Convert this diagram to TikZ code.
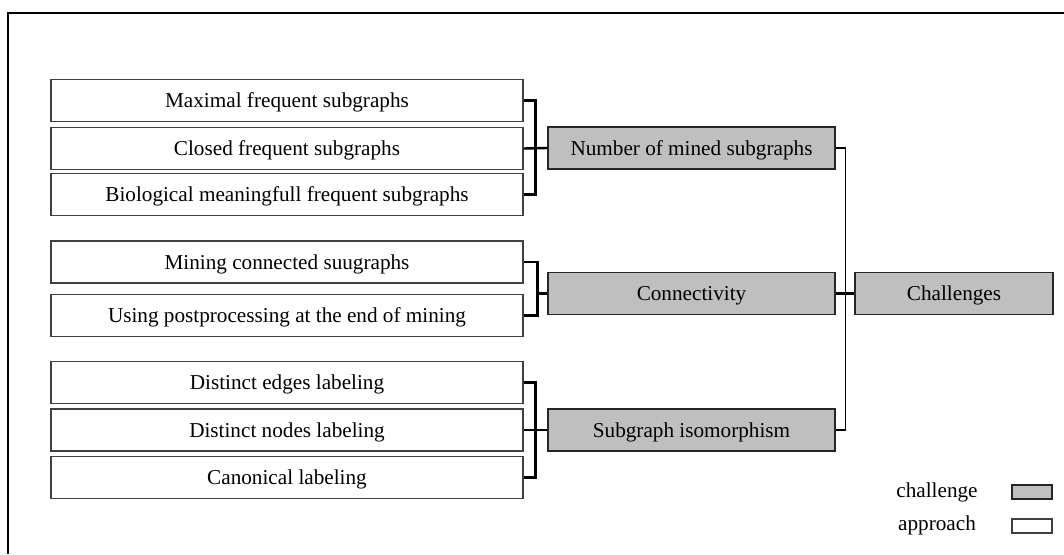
\documentclass[tikz,border=0pt]{standalone}
\usepackage{fontspec}
\setmainfont{Liberation Serif}

\begin{document}
\begin{tikzpicture}[x=1pt,y=-1pt,
    approach/.style={draw=black!75,fill=white,line width=1.1pt,inner sep=0pt,
        minimum width=472pt,minimum height=42pt,text height=14pt,text depth=0pt,
        font=\fontsize{21.2}{25}\selectfont},
    challenge/.style={draw=black!85,fill=gray!50,line width=1.1pt,inner sep=0pt,
        minimum width=287pt,minimum height=42pt,text height=14pt,text depth=0pt,
        font=\fontsize{21.2}{25}\selectfont},
    legend/.style={font=\fontsize{21.2}{25}\selectfont},
    bracket/.style={line width=2.4pt},
    link/.style={line width=1.6pt}]

    \useasboundingbox (0,0) rectangle (1064,554);
    \draw[line width=1.6pt] (1064,13) -| (8,554);

    \node[approach] (max) at (287,100.5) {Maximal frequent subgraphs};
    \node[approach] (closed) at (287,148.5) {Closed frequent subgraphs};
    \node[approach] (bio) at (287,194.5) {Biological meaningfull frequent subgraphs};
    \node[approach] (mining) at (287,262) {Mining connected suugraphs};
    \node[approach] (using) at (287,315.5) {Using postprocessing at the end of mining};
    \node[approach] (edges) at (287,382.5) {Distinct edges labeling};
    \node[approach] (nodes) at (287,430) {Distinct nodes labeling};
    \node[approach] (canon) at (287,477.5) {Canonical labeling};

    \node[challenge] (number) at (691.5,148) {Number of mined subgraphs};
    \node[challenge] (conn) at (691.5,293.5) {Connectivity};
    \node[challenge] (iso) at (691.5,430) {Subgraph isomorphism};
    \node[challenge,minimum width=198pt] (chall) at (954,293.5) {Challenges};

    \node[legend] (lchal) at (937,492) {challenge};
    \node[legend] (lappr) at (937,525) {approach};
    \node[challenge,minimum width=40pt,minimum height=14pt] (bchal) at (1032,492) {};
    \node[approach,minimum width=40pt,minimum height=14pt] (bappr) at (1032,526) {};

    \draw[bracket] (max.east) -- ++(12,0) |- (bio.east);
    \draw[bracket] (closed.east) -- (number.west);
    \draw[bracket] (mining.east) -- ++(14,0) |- (using.east);
    \draw[bracket] (conn.west) -- ++(-11,0);
    \draw[bracket] (edges.east) -- ++(12,0) |- (canon.east);
    \draw[link] (nodes.east) -- (iso.west);
    \draw[link] (number.east) -- ++(10,0) |- (iso.east);
    \draw[bracket] (conn.east) -- (chall.west);

\end{tikzpicture}
\end{document}
